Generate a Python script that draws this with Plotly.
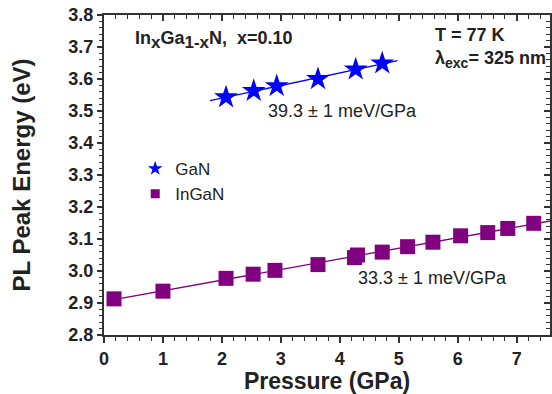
import numpy as np
import plotly.graph_objects as go

# GaN data
gan_p = [2.07, 2.54, 2.93, 3.63, 4.27, 4.72]
gan_e = [3.543, 3.563, 3.578, 3.600, 3.630, 3.649]
gan_fit_range = [1.80, 4.98]

# InGaN data
ingan_p = [0.17, 1.00, 2.07, 2.53, 2.90, 3.63, 4.25, 4.30, 4.72, 5.15, 5.58, 6.05, 6.51, 6.85, 7.29]
ingan_e = [2.913, 2.937, 2.977, 2.990, 3.002, 3.020, 3.042, 3.050, 3.059, 3.076, 3.090, 3.110, 3.120, 3.133, 3.149]
ingan_fit_range = [0.05, 7.57]

x_ticks = [0, 1, 2, 3, 4, 5, 6, 7]
y_ticks = [2.8, 2.9, 3.0, 3.1, 3.2, 3.3, 3.4, 3.5, 3.6, 3.7, 3.8]

FONT = "Liberation Sans, Arial, sans-serif"
TXT = "#222222"
BLUE = "#0000FF"
PURPLE = "#800080"

def fit_line(xs, ys, xr):
    a, b = np.polyfit(xs, ys, 1)
    xx = np.array(xr)
    return xx, a * xx + b

fig = go.Figure()

gx, gy = fit_line(gan_p, gan_e, gan_fit_range)
ix, iy = fit_line(ingan_p, ingan_e, ingan_fit_range)

fig.add_trace(go.Scatter(x=gx, y=gy, mode="lines", line=dict(color=BLUE, width=1.3),
                         showlegend=False, hoverinfo="skip"))
fig.add_trace(go.Scatter(x=ix, y=iy, mode="lines", line=dict(color=PURPLE, width=1.3),
                         showlegend=False, hoverinfo="skip"))
fig.add_trace(go.Scatter(x=gan_p, y=gan_e, mode="markers", name="GaN", showlegend=False,
                         marker=dict(symbol="star", size=18, color=BLUE, line=dict(width=0))))
fig.add_trace(go.Scatter(x=ingan_p, y=ingan_e, mode="markers", name="InGaN", showlegend=False,
                         marker=dict(symbol="square", size=15, color=PURPLE, line=dict(width=0))))
# legend entries (smaller symbols, as in the reference legend)
fig.add_trace(go.Scatter(x=[None], y=[None], mode="markers", name="GaN",
                         marker=dict(symbol="star", size=11, color=BLUE, line=dict(width=0))))
fig.add_trace(go.Scatter(x=[None], y=[None], mode="markers", name="InGaN",
                         marker=dict(symbol="square", size=9, color=PURPLE, line=dict(width=0))))

xr = [0, 7.566]
yr = [2.8, 3.8]

axis_common = dict(showgrid=False, zeroline=False, showline=True, linecolor="#333333",
                   linewidth=2, tickcolor="#333333")

fig.update_layout(
    width=552, height=394,
    margin=dict(l=104, r=2, t=15, b=59, autoexpand=False),
    paper_bgcolor="white", plot_bgcolor="white",
    font=dict(family=FONT, color=TXT),
    xaxis=dict(range=xr, tickvals=x_ticks, ticks="outside", ticklen=6, tickwidth=2,
               minor=dict(dtick=0.2, ticks="outside", ticklen=4, tickwidth=1.3, tickcolor="#333333"),
               tickfont=dict(size=18, family=FONT, color=TXT, weight="bold"),
               title=dict(text="<b>Pressure (GPa)</b>", font=dict(size=23, color=TXT), standoff=1),
               automargin=False, **axis_common),
    yaxis=dict(range=yr, tickvals=y_ticks, tickformat=".1f", ticks="outside", ticklen=5, tickwidth=2,
               minor=dict(dtick=0.02, ticks="outside", ticklen=3, tickwidth=1.3, tickcolor="#333333"),
               tickfont=dict(size=18, family=FONT, color=TXT, weight="bold"),
               title=dict(text="<b>PL Peak Energy (eV)</b>", font=dict(size=24, color=TXT), standoff=31),
               automargin=False, **axis_common),
    xaxis2=dict(range=xr, overlaying="x", side="top", tickvals=x_ticks, showticklabels=False,
                ticks="inside", ticklen=6, tickwidth=2,
                minor=dict(dtick=0.2, ticks="inside", ticklen=4, tickwidth=1.3, tickcolor="#333333"),
                **axis_common),
    yaxis2=dict(range=yr, overlaying="y", side="right", tickvals=y_ticks, showticklabels=False,
                ticks="inside", ticklen=6, tickwidth=2,
                minor=dict(dtick=0.02, ticks="inside", ticklen=4, tickwidth=1.3, tickcolor="#333333"),
                **axis_common),
    legend=dict(x=0.07, y=0.575, xanchor="left", yanchor="top", bgcolor="rgba(0,0,0,0)",
                font=dict(size=17, color=TXT), itemwidth=30, tracegroupgap=0),
    showlegend=True,
)

# dummy trace to activate the mirrored axes
fig.add_trace(go.Scatter(x=[None], y=[None], xaxis="x2", yaxis="y2", showlegend=False, hoverinfo="skip"))

SUB = '<sub><span style="font-size:{}px">{}</span></sub>'
annots = [
    dict(x=0.53, y=3.722, text="<b>In" + SUB.format(17, "x") + "Ga" + SUB.format(17, "1-x")
         + "N,&nbsp;&nbsp;x=0.10</b>", size=18),
    dict(x=5.61, y=3.737, text="<b>T = 77 K</b>", size=18),
    dict(x=5.61, y=3.660, text="<b>λ" + SUB.format(14, "exc") + "= 325 nm</b>", size=18),
    dict(x=2.78, y=3.500, text="39.3 ± 1 meV/GPa", size=18),
    dict(x=4.31, y=2.979, text="33.3 ± 1 meV/GPa", size=18),
]
for a in annots:
    fig.add_annotation(x=a["x"], y=a["y"], xref="x", yref="y", text=a["text"], showarrow=False,
                       xanchor="left", yanchor="middle", xshift=-2,
                       font=dict(size=a["size"], color=TXT, family=FONT))

fig.write_html("out.html", config={"displayModeBar": False},
               post_script="document.body.style.margin='0';document.body.style.overflow='hidden';")
